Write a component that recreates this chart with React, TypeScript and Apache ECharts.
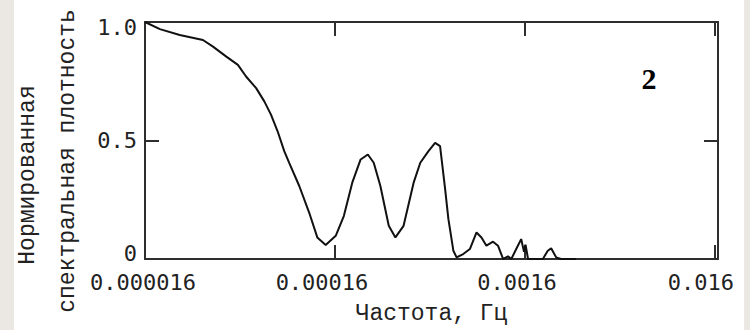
import React, { useEffect, useRef } from "react";
import * as echarts from "echarts";

// Frequencies (Hz) and normalized spectral density
const FREQ_HZ = [
  1.6e-5, 1.917e-5, 2.438e-5, 3.229e-5, 3.648e-5, 4.287e-5, 4.933e-5, 5.446e-5,
  6.154e-5, 6.793e-5, 7.365e-5, 7.982e-5, 8.652e-5, 9.186e-5, 1.0378e-4, 1.1698e-4,
  1.2915e-4, 1.4293e-4, 1.6147e-4, 1.7825e-4, 1.9727e-4, 2.1833e-4, 2.3825e-4,
  2.5592e-4, 2.7737e-4, 3.0701e-4, 3.3276e-4, 3.6737e-4, 4.1502e-4, 4.4988e-4,
  4.9682e-4, 5.384e-4, 5.7174e-4, 6.0693e-4, 6.326e-4, 6.717e-4, 6.984e-4,
  7.571e-4, 8.206e-4, 8.894e-4, 9.443e-4, 1.0026e-3, 1.0867e-3, 1.1538e-3,
  1.2279e-3, 1.3035e-3, 1.3555e-3, 1.4392e-3, 1.528e-3, 1.5818e-3, 1.6111e-3,
  1.6608e-3, 1.987e-3, 2.109e-3, 2.198e-3, 2.334e-3, 2.478e-3, 2.966e-3,
];
const DENSITY = [
  1.0, 0.97, 0.945, 0.924, 0.896, 0.854, 0.819, 0.77,
  0.721, 0.665, 0.609, 0.539, 0.455, 0.406, 0.308, 0.196,
  0.091, 0.059, 0.098, 0.182, 0.322, 0.42, 0.441,
  0.406, 0.308, 0.14, 0.091, 0.14, 0.322, 0.406,
  0.455, 0.49, 0.476, 0.3, 0.168, 0.035, 0.007,
  0.021, 0.042, 0.112, 0.091, 0.056, 0.073, 0.056,
  0.0, 0.011, 0.0, 0.042, 0.084, 0.03, 0.06,
  0.0, 0.0, 0.035, 0.045, 0.007, 0.0, 0.0,
];

const F_MIN = 1.6e-5; // left edge of the axis (Hz)
const X_TICK_LABELS = ["0.000016", "0.00016", "0.0016", "0.016"];
const Y_TICK_LABELS: Record<string, string> = { "0": "0", "0.5": "0.5", "1": "1.0" };
const X_TITLE = "Частота, Гц";
const Y_TITLE_1 = "Нормированная";
const Y_TITLE_2 = "спектральная плотность";
const CURVE_LABEL = "2";

const AXIS_COLOR = "#2e2e2e";
const TICK_FONT = "DejaVu Sans Mono";
const TITLE_FONT = "Liberation Mono";
const LABEL_COLOR = "#222";

export default function App() {
  const ref = useRef<HTMLDivElement>(null);

  useEffect(() => {
    document.body.style.margin = "0";
    if (!ref.current) return;
    const chart = echarts.init(ref.current, undefined, { renderer: "svg" });

    // decades above F_MIN, so the value axis behaves like a log axis
    const data = FREQ_HZ.map((f, i) => [Math.log10(f / F_MIN), DENSITY[i]]);

    const mkLine = () => ({ show: true, onZero: false, lineStyle: { color: AXIS_COLOR, width: 2 } });
    const mkTick = () => ({ show: true, inside: true, length: 14, lineStyle: { color: AXIS_COLOR, width: 2 } });
    const xCommon = () => ({
      type: "value" as const,
      min: 0,
      max: 3.016,
      interval: 1,
      splitLine: { show: false },
      axisLine: mkLine(),
      axisTick: mkTick(),
    });
    const yCommon = () => ({
      type: "value" as const,
      min: 0,
      max: 1,
      interval: 0.5,
      splitLine: { show: false },
      axisLine: mkLine(),
      axisTick: mkTick(),
    });

    const lab = { fontFamily: TICK_FONT, fontSize: 22, color: LABEL_COLOR };
    const xShiftRich: Record<string, any> = {
      x0: { ...lab, padding: [0, 4, 0, 0] },
      x1: { ...lab, padding: [0, 26, 0, 0] },
      x2: { ...lab, padding: [0, 16, 0, 0] },
      x3: { ...lab, padding: [0, 28, 0, 0] },
    };

    chart.setOption({
      animation: false,
      backgroundColor: "#ffffff",
      grid: { left: 131, right: 26, top: 22, bottom: 70, containLabel: false },
      xAxis: [
        {
          ...xCommon(),
          position: "bottom",
          name: X_TITLE,
          nameLocation: "middle",
          nameGap: 43,
          nameTextStyle: { fontFamily: TITLE_FONT, fontSize: 23, color: LABEL_COLOR },
          axisLabel: {
            show: true,
            margin: 12,
            ...lab,
            formatter: (v: number) => {
              const i = Math.round(v);
              return Math.abs(v - i) < 1e-6 && X_TICK_LABELS[i] ? `{x${i}|${X_TICK_LABELS[i]}}` : "";
            },
            rich: xShiftRich,
          },
        },
        { ...xCommon(), position: "top", axisLabel: { show: false } },
      ],
      yAxis: [
        {
          ...yCommon(),
          position: "left",
          axisLabel: {
            show: true,
            margin: 8,
            ...lab,
            formatter: (v: number) => {
              const s = Y_TICK_LABELS[String(v)] ?? "";
              if (v === 1) return "{hi|" + s + "}";
              if (v === 0) return "{lo|" + s + "}";
              return s;
            },
            rich: {
              hi: { ...lab, padding: [10, 0, 0, 0] },
              lo: { ...lab, padding: [0, 0, 12, 0] },
            },
          },
        },
        { ...yCommon(), position: "right", axisLabel: { show: false } },
      ],
      graphic: [
        {
          type: "text",
          x: 14,
          y: 175,
          rotation: Math.PI / 2,
          style: {
            text: Y_TITLE_1,
            font: `23px "${TITLE_FONT}"`,
            fill: LABEL_COLOR,
            align: "center",
            verticalAlign: "middle",
            textAlign: "center",
            textVerticalAlign: "middle",
          },
        },
        {
          type: "text",
          x: 54,
          y: 161,
          rotation: Math.PI / 2,
          style: {
            text: Y_TITLE_2,
            font: `23px "${TITLE_FONT}"`,
            fill: LABEL_COLOR,
            align: "center",
            verticalAlign: "middle",
            textAlign: "center",
            textVerticalAlign: "middle",
          },
        },
        {
          type: "text",
          x: 635,
          y: 78,
          style: {
            text: CURVE_LABEL,
            font: `bold 30px "Liberation Serif"`,
            fill: "#000",
            align: "center",
            verticalAlign: "middle",
            textAlign: "center",
            textVerticalAlign: "middle",
          },
        },
      ],
      series: [
        {
          type: "line",
          xAxisIndex: 0,
          yAxisIndex: 0,
          data,
          showSymbol: false,
          symbol: "none",
          smooth: false,
          lineStyle: { color: "#111", width: 2 },
        },
      ],
    });

    return () => chart.dispose();
  }, []);

  return (
    <div style={{ position: "relative", width: 750, height: 330, background: "#ebe7e3" }}>
      <div
        ref={ref}
        style={{ position: "absolute", left: 14, top: 0, width: 730, height: 330, background: "#ffffff" }}
      />
    </div>
  );
}
